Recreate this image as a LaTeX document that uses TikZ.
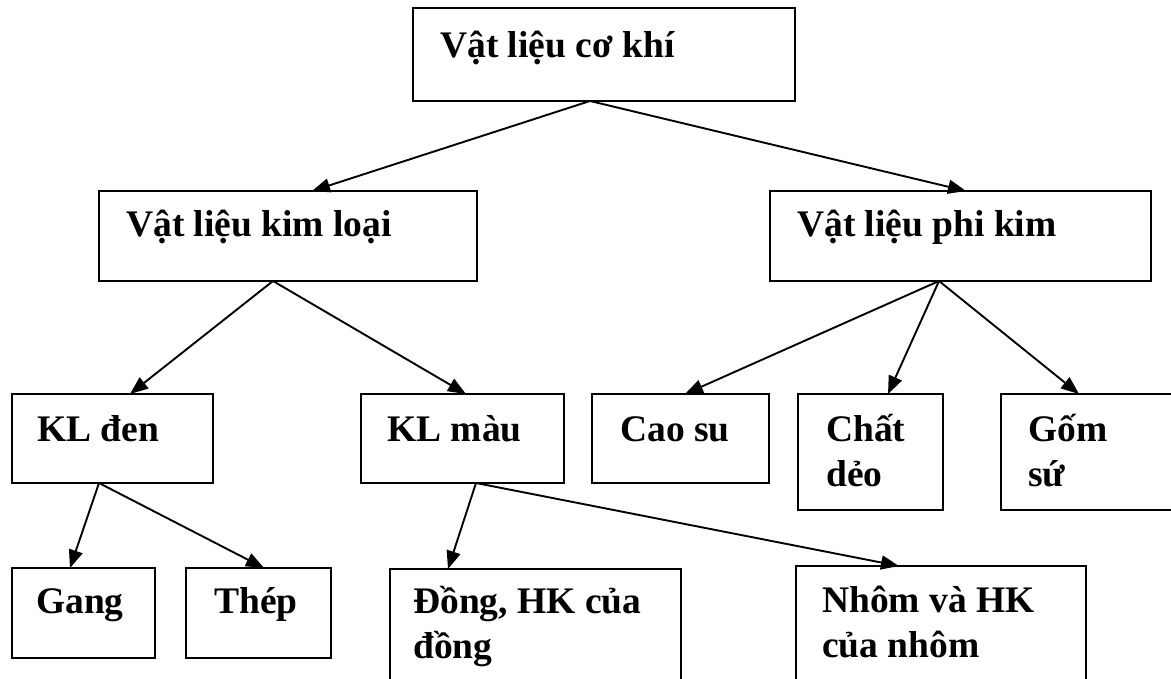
\documentclass[tikz,border=0pt]{standalone}
\usepackage{fontspec}
\setmainfont{Liberation Serif}
\usetikzlibrary{arrows.meta}
\newcommand{\twoln}[2]{\begin{tabular}[t]{@{}l@{}}#1\\#2\end{tabular}}
\begin{document}
\begin{tikzpicture}[x=1pt,y=-1pt,
  box/.style={draw=black, line width=2.2pt, anchor=north west, inner sep=0pt, outer sep=0pt, fill=white},
  txt/.style={anchor=base west, inner sep=0pt, font=\fontsize{37.5}{45}\selectfont\bfseries},
  arr/.style={line width=1.9pt, -{Triangle[length=18pt,width=14pt]}}]
\useasboundingbox (0,0) rectangle (1171,679);
\clip (0,0) rectangle (1171,679);
\fill[white] (0,0) rectangle (1171,679);
% boxes
\node[box, minimum width=382pt, minimum height=93pt] (top) at (413,8) {};
\node[box, minimum width=378pt, minimum height=90pt] (kl) at (99,191) {};
\node[box, minimum width=381pt, minimum height=90pt] (pk) at (770,191) {};
\node[box, minimum width=201pt, minimum height=89pt] (den) at (12,394) {};
\node[box, minimum width=203pt, minimum height=89pt] (mau) at (361,394) {};
\node[box, minimum width=177pt, minimum height=89pt] (cao) at (592,394) {};
\node[box, minimum width=145pt, minimum height=116pt] (chat) at (798,394) {};
\node[box, minimum width=200pt, minimum height=116pt] (gom) at (1001,394) {};
\node[box, minimum width=143pt, minimum height=90pt] (gang) at (12,568) {};
\node[box, minimum width=145pt, minimum height=90pt] (thep) at (186,568) {};
\node[box, minimum width=291pt, minimum height=140pt] (dong) at (390,569) {};
\node[box, minimum width=290pt, minimum height=140pt] (nhom) at (796,566) {};
% texts
\node[txt] (ttop) at ([shift={(27,50)}]top.north west) {Vật liệu cơ khí};
\node[txt] (tkl) at ([shift={(27,46)}]kl.north west) {Vật liệu kim loại};
\node[txt] (tpk) at ([shift={(27,46)}]pk.north west) {Vật liệu phi kim};
\node[txt] (tden) at ([shift={(25,47)}]den.north west) {KL đen};
\node[txt] (tmau) at ([shift={(26,47)}]mau.north west) {KL màu};
\node[txt] (tcao) at ([shift={(28,47)}]cao.north west) {Cao su};
\node[txt] (tchat) at ([shift={(28,47)}]chat.north west) {\twoln{Chất}{dẻo}};
\node[txt] (tgom) at ([shift={(27,47)}]gom.north west) {\twoln{Gốm}{sứ}};
\node[txt] (tgang) at ([shift={(24,45)}]gang.north west) {Gang};
\node[txt] (tthep) at ([shift={(28,45)}]thep.north west) {Thép};
\node[txt] (tdong) at ([shift={(23,44)}]dong.north west) {\twoln{Đồng, HK của}{đồng}};
\node[txt] (tnhom) at ([shift={(26,46)}]nhom.north west) {\twoln{Nhôm và HK}{của nhôm}};
% connectors
\draw[arr] ([xshift=177pt]top.south west) -- ([xshift=213pt]kl.north west);
\draw[arr] ([xshift=177pt]top.south west) -- ([xshift=196pt]pk.north west);
\draw[arr] ([xshift=174pt]kl.south west) -- ([xshift=118pt]den.north west);
\draw[arr] ([xshift=174pt]kl.south west) -- ([xshift=105pt]mau.north west);
\draw[arr] ([xshift=169pt]pk.south west) -- ([xshift=93pt]cao.north west);
\draw[arr] ([xshift=169pt]pk.south west) -- ([xshift=90pt]chat.north west);
\draw[arr] ([xshift=169pt]pk.south west) -- ([xshift=78pt]gom.north west);
\draw[arr] ([xshift=87pt]den.south west) -- ([xshift=58pt]gang.north west);
\draw[arr] ([xshift=87pt]den.south west) -- ([xshift=78pt]thep.north west);
\draw[arr] ([xshift=115pt]mau.south west) -- ([xshift=58pt]dong.north west);
\draw[arr] ([xshift=115pt]mau.south west) -- ([xshift=103pt]nhom.north west);
\end{tikzpicture}
\end{document}
